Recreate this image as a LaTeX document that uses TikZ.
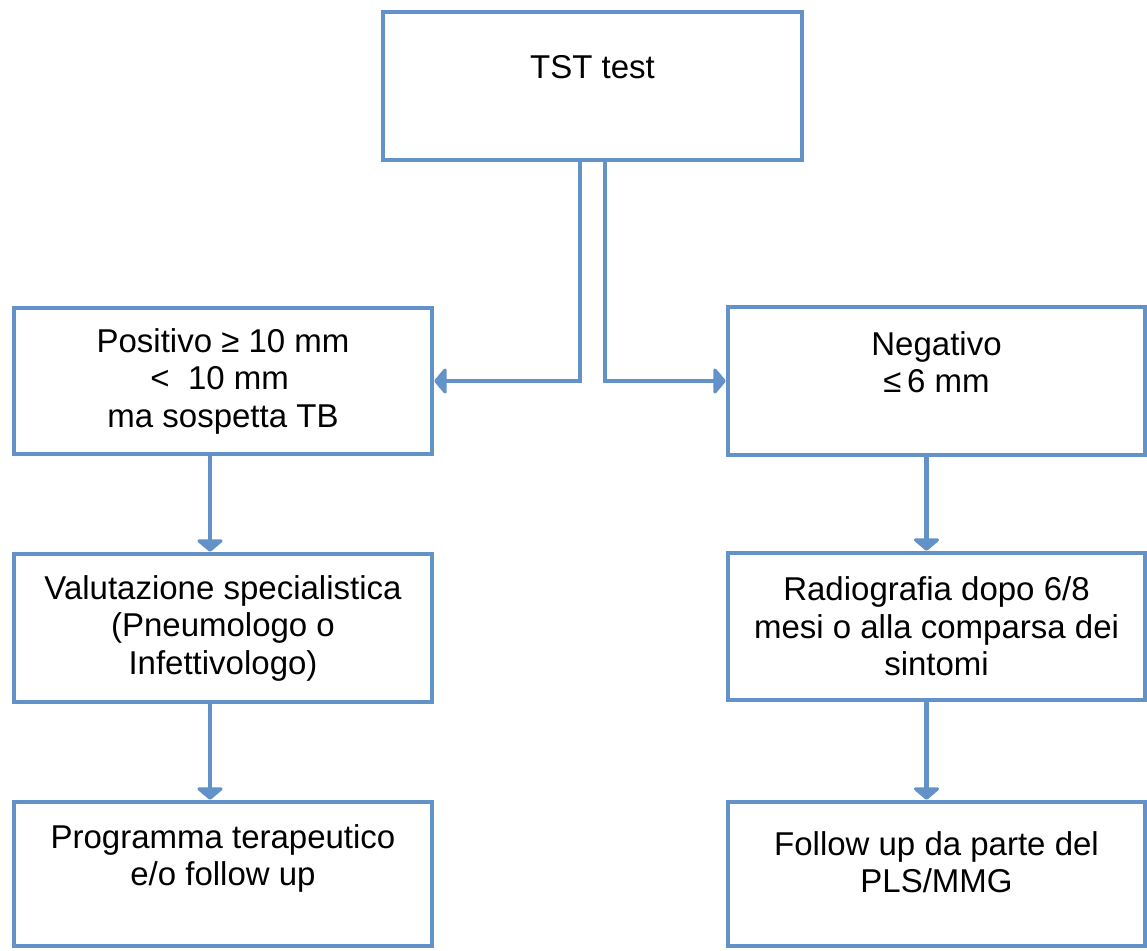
\documentclass[tikz,border=0pt]{standalone}
\usepackage{fontspec}
\setmainfont{Liberation Sans}
\usetikzlibrary{arrows.meta}
\definecolor{lineblue}{RGB}{98,146,200}
\begin{document}
\begin{tikzpicture}[x=1pt,y=-1pt,
  box/.style={draw=lineblue, line width=4.5pt, fill=white, rectangle,
    minimum width=418pt, minimum height=146pt, inner sep=0pt,
    align=center, font=\fontsize{33}{37.5}\selectfont, text=black},
  conn/.style={draw=lineblue, line width=4.5pt,
    -{Triangle[length=13pt,width=30pt,round]}}]
\useasboundingbox[fill=white] (0,0) rectangle (1147,950);
\node[box, minimum width=419pt, minimum height=148pt] (top) at (592.5,86) {TST test\\\mbox{}};
\node[box] (L1) at (223,381) {Positivo ≥ 10 mm\\\kern-.2em<\ \ 10 mm\\ma sospetta TB};
\node[box, minimum width=417pt, minimum height=148pt] (R1) at (936.5,381) {Negativo\\≤\,6 mm\\\mbox{}};
\node[box, minimum height=148pt] (L2) at (223,628) {Valutazione specialistica\\(Pneumologo o\\Infettivologo)};
\node[box, minimum width=417pt, minimum height=147pt] (R2) at (936.5,626.5) {Radiografia dopo 6/8\\mesi o alla comparsa dei\\sintomi};
\node[box, minimum height=144pt] (L3) at (223,874) {Programma terapeutico\\e/o follow up\\\mbox{}};
\node[box, minimum width=417pt, minimum height=144pt] (R3) at (936.5,874) {Follow up da parte del\\PLS/MMG\\[-14pt]\mbox{}};
\draw[conn] ([xshift=-12.5pt]top.south) |- (L1.east);
\draw[conn] ([xshift=12.5pt]top.south) |- (R1.west);
\draw[conn] ([xshift=-13pt]L1.south) -- ([xshift=-13pt]L2.north);
\draw[conn] ([xshift=-13pt]L2.south) -- ([xshift=-13pt]L3.north);
\draw[conn] ([xshift=-10pt]R1.south) -- ([xshift=-10pt]R2.north);
\draw[conn] ([xshift=-10pt]R2.south) -- ([xshift=-10pt]R3.north);
\end{tikzpicture}
\end{document}
